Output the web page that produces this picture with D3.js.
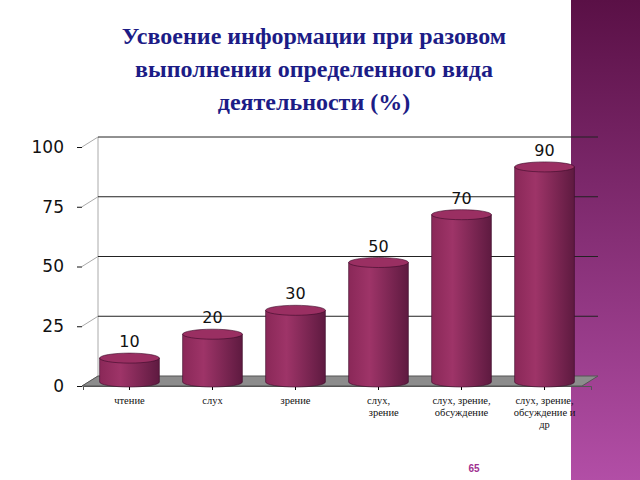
<!DOCTYPE html>
<html><head><meta charset="utf-8">
<script src="https://cdn.jsdelivr.net/npm/d3@7"></script>
<style>body{margin:0;background:#fff}</style>
</head><body><div id="chart"></div>
<script>
var categories = [["чтение"], ["слух"], ["зрение"], ["слух,", "    зрение"], ["слух, зрение,", "обсуждение"], ["слух, зрение,", "обсуждение и", "др"]];
var values = [10, 20, 30, 50, 70, 90];
var ticks = [0, 25, 50, 75, 100];
var titleLines = ["Усвоение информации при разовом", "выполнении определенного вида", "деятельности (%)"];

const WIDTH = 640, HEIGHT = 480;
const DX = 16, DY = -10;

var svg = d3.select("#chart").append("svg").attr("width", WIDTH).attr("height", HEIGHT);
var defs = svg.append("defs");

var side = defs.append("linearGradient").attr("id", "side").attr("x1", 0).attr("y1", 0).attr("x2", 0).attr("y2", 1);
side.append("stop").attr("offset", 0).attr("stop-color", "#5a1046");
side.append("stop").attr("offset", 1).attr("stop-color", "#b24ea6");

var cyl = defs.append("linearGradient").attr("id", "cyl");
cyl.append("stop").attr("offset", 0).attr("stop-color", "#8a2858");
cyl.append("stop").attr("offset", 0.35).attr("stop-color", "#9e3468");
cyl.append("stop").attr("offset", 1).attr("stop-color", "#5e1a40");

svg.append("rect").attr("x", 571).attr("y", 0).attr("width", 69).attr("height", HEIGHT).attr("fill", "url(#side)");

var x = d3.scaleBand().domain(d3.range(categories.length)).range([83, 591]).paddingInner(0.28).paddingOuter(0.2);
var y = d3.scaleLinear().domain([0, 100]).range([386, 147]);

// walls & grid
svg.append("path").attr("d", d3.line()([[82, y(0)], [82 + DX, y(0) + DY], [82 + DX, y(100) + DY]]))
    .attr("fill", "none").attr("stroke", "#aaa");
ticks.slice(1).forEach(function (t) {
    svg.append("line").attr("x1", 82 + DX).attr("x2", 598).attr("y1", y(t) + DY).attr("y2", y(t) + DY)
        .attr("stroke", "#222");
    svg.append("line").attr("x1", 82).attr("x2", 82 + DX).attr("y1", y(t)).attr("y2", y(t) + DY).attr("stroke", "#aaa");
});
// floor
svg.append("path").attr("d", d3.line()([[82, y(0)], [82 + DX, y(0) + DY], [598, y(0) + DY], [582, y(0)]]) + "Z")
    .attr("fill", "#8c8c8c").attr("stroke", "#555");

var yAxis = d3.axisLeft(y).tickValues(ticks).tickSize(5).tickPadding(6);
var ga = svg.append("g").attr("transform", "translate(75,0)").call(yAxis);
ga.select(".domain").remove();
ga.selectAll("text").attr("font-family", "DejaVu Sans").attr("font-size", 17).attr("fill", "#111");
ga.selectAll("line").attr("stroke", "#111").attr("transform", "translate(7,0)");

var xAxis = d3.axisBottom(x).tickSize(4).tickFormat("");
var gx = svg.append("g").attr("transform", "translate(0,386)").call(xAxis);
gx.select(".domain").attr("stroke", "#555");

// cylinders
var bw = x.bandwidth(), ry = 5;
var bars = svg.selectAll(".bar").data(values).enter().append("g");
bars.append("path").attr("d", function (d, i) {
    var x0 = x(i), x1 = x0 + bw, yt = y(d) - 4, yb = y(0) - 4;
    return "M" + x0 + "," + yt + "L" + x0 + "," + yb + "A" + bw / 2 + "," + ry + " 0 0 0 " + x1 + "," + yb +
        "L" + x1 + "," + yt + "Z";
}).attr("fill", "url(#cyl)").attr("stroke", "#3a0a28").attr("stroke-width", 0.6);
bars.append("ellipse").attr("cx", function (d, i) { return x(i) + bw / 2; })
    .attr("cy", function (d) { return y(d) - 4; }).attr("rx", bw / 2).attr("ry", ry)
    .attr("fill", "#9a2f62").attr("stroke", "#3a0a28").attr("stroke-width", 0.6);
bars.append("text").attr("x", function (d, i) { return x(i) + bw / 2; })
    .attr("y", function (d) { return y(d) - 15; }).attr("text-anchor", "middle")
    .attr("font-family", "DejaVu Sans").attr("font-size", 16).attr("fill", "#111")
    .text(function (d) { return d; });

// category labels
categories.forEach(function (lines, i) {
    var cx = x(i) + bw / 2;
    var t = svg.append("text").attr("x", cx).attr("y", 404).attr("text-anchor", "middle")
        .attr("font-family", "Liberation Serif").attr("font-size", 10.5).attr("fill", "#111")
        .attr("xml:space", "preserve");
    lines.forEach(function (l, j) {
        t.append("tspan").attr("x", cx).attr("dy", j ? 12 : 0).text(l);
    });
});

titleLines.forEach(function (l, i) {
    svg.append("text").attr("x", 314).attr("y", 44 + i * 33).attr("text-anchor", "middle")
        .attr("font-family", "Liberation Serif").attr("font-weight", "bold").attr("font-size", 24)
        .attr("fill", "#1c1c86").text(l);
});

svg.append("text").attr("x", 474).attr("y", 472).attr("text-anchor", "middle")
    .attr("font-family", "Liberation Sans").attr("font-weight", "bold").attr("font-size", 10).attr("fill", "#a03090").text("65");
</script></body></html>
